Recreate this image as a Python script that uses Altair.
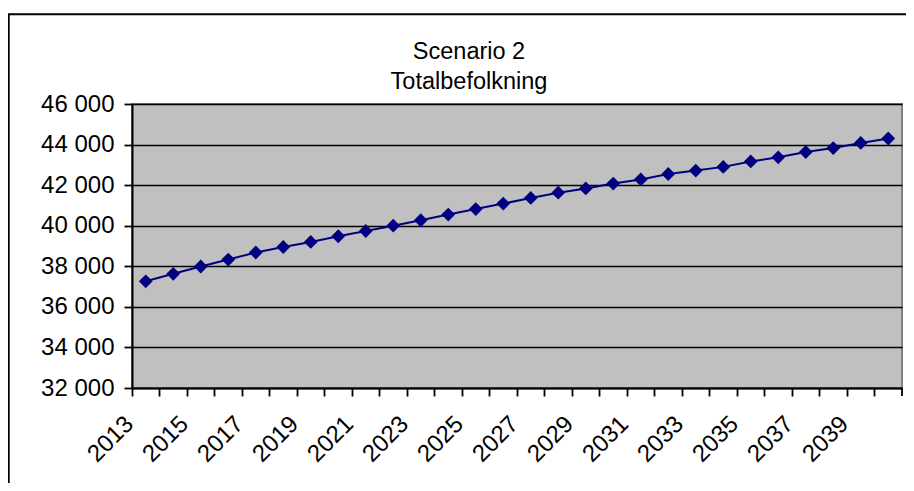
import altair as alt
import pandas as pd

years = list(range(2013, 2041))
population = [37260, 37630, 37990, 38330, 38680, 38950, 39200, 39480, 39740, 40000,
              40270, 40550, 40820, 41090, 41370, 41630, 41840, 42080, 42280, 42550,
              42720, 42900, 43170, 43370, 43630, 43830, 44080, 44300]
y_ticks = list(range(32000, 46001, 2000))
title_lines = ["Scenario 2", "Totalbefolkning"]

df = pd.DataFrame({"year": years, "pop": population})

FONT = "Liberation Sans"
W, H = 770, 284
NAVY = "#000080"
FS = 24

x_enc = alt.X(
    "year:O",
    bandPosition=0.5,
    scale=alt.Scale(type="band", paddingInner=0, paddingOuter=0),
    axis=alt.Axis(
        title=None,
        bandPosition=0,
        labelExpr="datum.value % 2 == 1 ? datum.label : ''",
        labelAngle=315,
        labelAlign="right",
        labelBaseline="middle",
        labelPadding=24,
        labelOffset=-16,
        labelFontSize=FS,
        labelFont=FONT,
        labelColor="black",
        labelOverlap=False,
        tickSize=8,
        tickWidth=1.8,
        tickColor="black",
        domainColor="black",
        domainWidth=2,
        grid=False,
    ),
)
y_enc = alt.Y(
    "pop:Q",
    scale=alt.Scale(domain=[32000, 46000], nice=False, zero=False),
    axis=alt.Axis(
        title=None,
        values=y_ticks,
        labelExpr="replace(format(datum.value, ','), ',', ' ')",
        labelFontSize=FS,
        labelFont=FONT,
        labelColor="black",
        labelPadding=10,
        labelBaseline="middle",
        tickSize=8,
        tickWidth=1.8,
        tickColor="black",
        domainColor="black",
        domainWidth=2,
        grid=True,
        gridColor="black",
        gridWidth=1.6,
    ),
)

base = alt.Chart(df)
line = base.mark_line(color=NAVY, strokeWidth=2).encode(x=x_enc, y=y_enc)
points = base.mark_point(shape="diamond", filled=True, size=190, color=NAVY, opacity=1).encode(x=x_enc, y=y_enc)

one = alt.Data(values=[{"k": 1}])
last_tick = alt.Chart(one).mark_rule(color="black", strokeWidth=1.8).encode(
    x=alt.value(W), y=alt.value(H), y2=alt.value(H + 8)
)
frame = alt.Chart(one).mark_rect(fill=None, stroke="black", strokeWidth=2).encode(
    x=alt.value(-123.3), y=alt.value(-89.8), x2=alt.value(1200), y2=alt.value(900)
)
title1 = alt.Chart(one).mark_text(
    text=title_lines[0], font=FONT, fontSize=23.5, color="black",
    align="center", baseline="alphabetic"
).encode(x=alt.value(337), y=alt.value(-44.7))
title2 = alt.Chart(one).mark_text(
    text=title_lines[1], font=FONT, fontSize=23.5, color="black",
    align="center", baseline="alphabetic"
).encode(x=alt.value(337), y=alt.value(-14.7))

chart = alt.layer(frame, title1, title2, line, points, last_tick).properties(
    width=W,
    height=H,
    autosize=alt.AutoSizeParams(type="none"),
    padding={"left": 124, "top": 96, "right": 4, "bottom": 95},
    background="white",
).configure_view(
    fill="#C0C0C0", stroke="#808080", strokeWidth=2
)

chart.save("out.html", embed_options={"renderer": "svg", "actions": False})
